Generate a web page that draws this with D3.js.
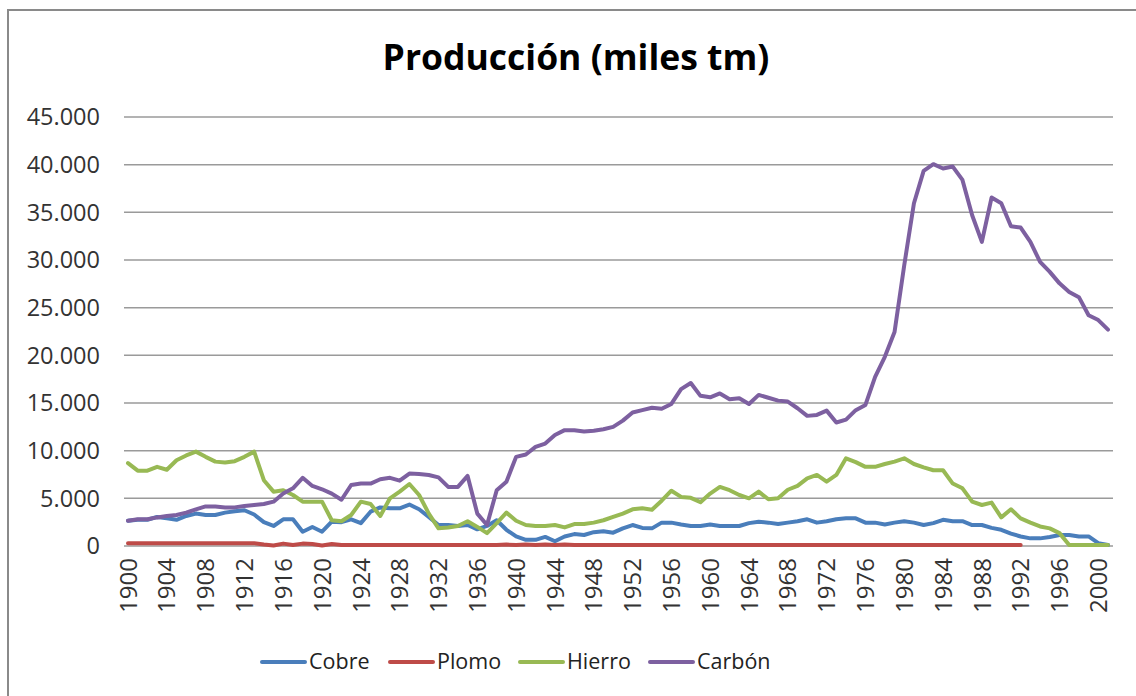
<!DOCTYPE html>
<html><head><meta charset="utf-8">
<script src="https://cdn.jsdelivr.net/npm/d3@7"></script>
<style>body{margin:0;background:#fff;} svg{display:block;}</style>
</head><body>
<svg id="c" width="1136" height="696"></svg>
<script>
const years = d3.range(1900, 2002);
const xTickLabels = d3.range(1900, 2001, 4);
const yTicks = [0,5000,10000,15000,20000,25000,30000,35000,40000,45000];
const seriesNames = ["Cobre","Plomo","Hierro","Carbón"];
const seriesColors = ["#4A7EBB","#BE4B48","#98B954","#7D60A0"];

const cobre = [2650,2750,2750,3050,2900,2750,3150,3400,3250,3250,3500,3650,3750,3300,2500,2100,2800,2800,1500,2000,
1500,2550,2500,2800,2400,3600,4050,3950,3950,4350,3850,3050,2200,2200,2100,2200,1750,2100,2700,1700,
1000,650,650,950,500,1000,1250,1150,1450,1550,1400,1850,2200,1900,1850,2450,2450,2250,2100,2100,
2250,2100,2100,2100,2400,2550,2450,2300,2450,2600,2800,2450,2600,2800,2900,2900,2450,2450,2250,2450,
2600,2450,2200,2400,2750,2600,2600,2200,2200,1900,1700,1300,1000,800,800,950,1150,1150,1000,1000,300,100];

const plomo = [300,300,300,300,300,300,300,300,300,300,300,300,300,300,150,50,250,100,250,200,
50,200,100,100,100,100,100,100,100,100,100,100,100,100,100,100,100,100,100,150,
100,150,100,150,100,150,100,100,100,100,100,100,100,100,100,100,100,100,100,100,
100,100,100,100,100,100,100,100,100,100,100,100,100,100,100,100,100,100,100,100,
100,100,100,100,100,100,100,100,100,100,100,100,100,null,null,null,null,null,null,null,null,null];

const hierro = [8700,7900,7900,8300,8000,9000,9500,9900,9350,8850,8750,8900,9350,9900,6900,5700,5850,5350,4650,4650,
4650,2700,2600,3250,4650,4400,3150,5000,5700,6500,5350,3400,1850,1950,2100,2600,2000,1350,2400,3500,
2650,2200,2100,2100,2200,1950,2300,2300,2450,2700,3050,3400,3850,3950,3800,4750,5800,5150,5050,4600,
5500,6200,5850,5350,5000,5700,4900,5000,5900,6300,7100,7450,6750,7450,9200,8800,8300,8300,8600,8850,
9200,8600,8250,7950,7950,6550,6050,4650,4300,4550,3000,3850,2900,2450,2050,1850,1350,100,100,100,100,100];

const carbon = [2650,2800,2800,3000,3150,3250,3500,3850,4150,4150,4050,4050,4200,4300,4400,4650,5500,6050,7150,6300,
5950,5500,4850,6400,6550,6550,7000,7150,6850,7600,7550,7450,7200,6200,6200,7350,3400,2200,5850,6750,
9350,9600,10400,10750,11650,12150,12150,12000,12100,12250,12500,13150,14000,14250,14500,14400,14900,16450,17100,15750,
15600,16000,15400,15500,14900,15850,15550,15250,15150,14450,13650,13750,14200,12950,13250,14250,14800,17750,19850,22450,
29450,35950,39350,40050,39600,39800,38400,34700,31900,36550,35950,33550,33400,31900,29800,28750,27550,26650,26100,24200,23700,22700];

const seriesValues = [cobre, plomo, hierro, carbon];

const svg = d3.select("#c");
const FONT = "'Open Sans', 'DejaVu Sans', sans-serif";
const loc = d3.formatLocale({decimal:",", thousands:".", grouping:[3], currency:["",""]});
const fmt = loc.format(",d");

// outer chart border
svg.append("rect").attr("x",8).attr("y",10).attr("width",1140).attr("height",700)
  .attr("fill","none").attr("stroke","#8a8a8a").attr("stroke-width",2);

const x = d3.scalePoint().domain(years).range([128, 1108]);
const y = d3.scaleLinear().domain([0,45000]).range([546,117]);

// gridlines
svg.append("g").selectAll("line").data(yTicks).join("line")
  .attr("x1",124).attr("x2",1113)
  .attr("y1",d=>y(d)).attr("y2",d=>y(d))
  .attr("stroke","#9a9a9a").attr("stroke-width",1.5);

// y labels
svg.append("g").selectAll("text").data(yTicks).join("text")
  .attr("x",100).attr("y",d=>y(d)).attr("dy","0.36em")
  .attr("text-anchor","end").attr("font-family",FONT).attr("font-size",23.5)
  .attr("fill","#333").text(d=>fmt(d));

// x labels
svg.append("g").selectAll("text").data(xTickLabels).join("text")
  .attr("transform",d=>`translate(${x(d)},558) rotate(-90)`)
  .attr("dy","0.36em").attr("text-anchor","end")
  .attr("font-family",FONT).attr("font-size",24).attr("fill","#333")
  .text(d=>d);

// lines
const line = d3.line().defined(d=>d[1]!==null).x(d=>x(d[0])).y(d=>y(d[1]));
seriesValues.forEach((vals,i)=>{
  svg.append("path").datum(years.map((yr,j)=>[yr, vals[j]]))
    .attr("d", line).attr("fill","none").attr("stroke",seriesColors[i])
    .attr("stroke-width",4).attr("stroke-linejoin","round").attr("stroke-linecap","round");
});

// title
svg.append("text").attr("x",576).attr("y",70).attr("text-anchor","middle")
  .attr("font-family",FONT).attr("font-weight","bold").attr("font-size",35.5)
  .attr("fill","#000").text("Producción (miles tm)");

// legend
const legX = [262, 390, 520, 650];
const leg = svg.append("g");
seriesNames.forEach((n,i)=>{
  leg.append("line").attr("x1",legX[i]).attr("x2",legX[i]+43).attr("y1",662).attr("y2",662)
    .attr("stroke",seriesColors[i]).attr("stroke-width",4).attr("stroke-linecap","round");
  leg.append("text").attr("x",legX[i]+47).attr("y",661).attr("dy","0.36em")
    .attr("font-family",FONT).attr("font-size",21.5).attr("fill","#222").text(n);
});
</script>
</body></html>
